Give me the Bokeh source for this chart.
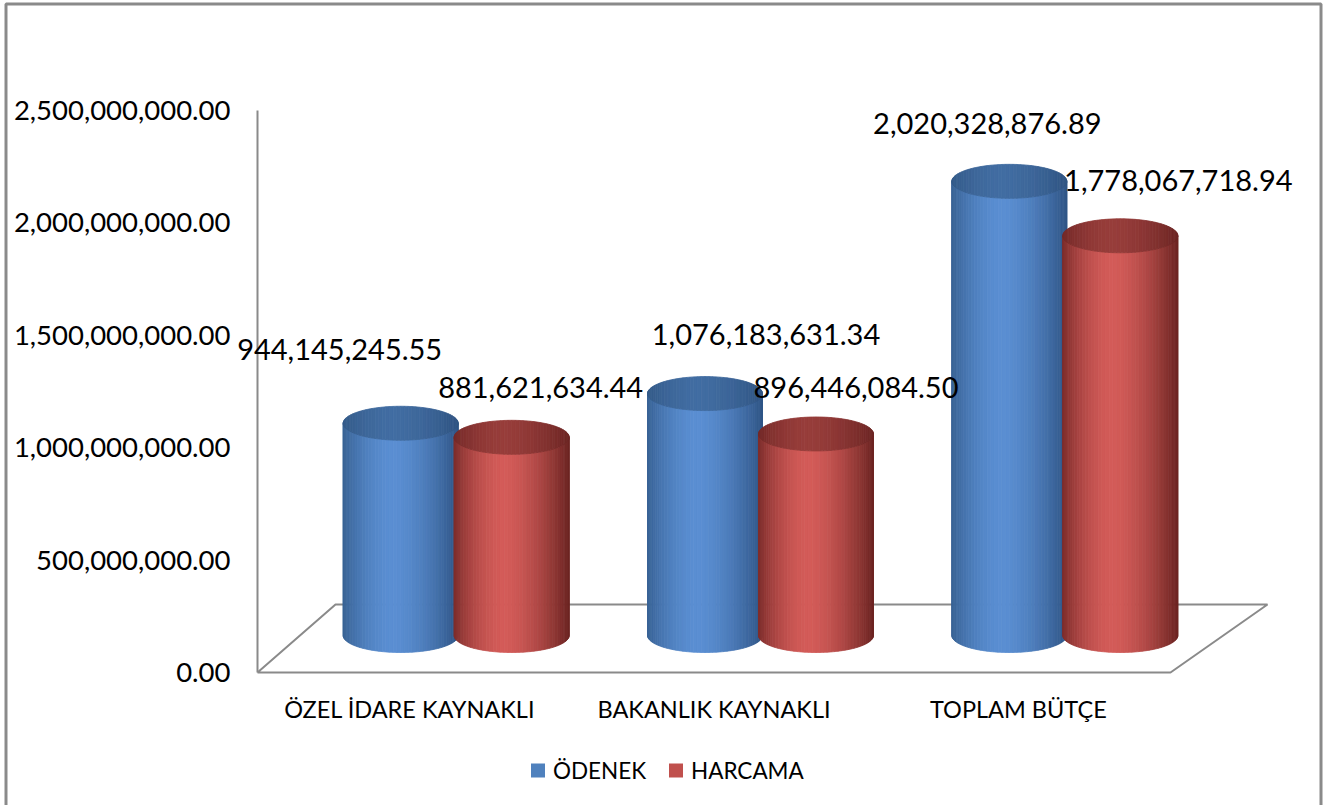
import numpy as np
from bokeh.plotting import figure
from bokeh.models import Range1d, ColumnDataSource
from bokeh.core.properties import value
from bokeh.embed import file_html
from bokeh.resources import INLINE

# ---------------- data ----------------
categories = ["ÖZEL İDARE KAYNAKLI", "BAKANLIK KAYNAKLI", "TOPLAM BÜTÇE"]
series_names = ["ÖDENEK", "HARCAMA"]
odenek = [944145245.55, 1076183631.34, 2020328876.89]
harcama = [881621634.44, 896446084.50, 1778067718.94]
y_ticks = [0, 500000000, 1000000000, 1500000000, 2000000000, 2500000000]

# ---------------- layout (pixels) ----------------
W, H = 1327, 805
Y0_PIX, YTOP_PIX = 672, 110            # pixel rows of 0 and of the top tick
PX = (y_ticks[-1] - y_ticks[0]) / (Y0_PIX - YTOP_PIX)  # value per pixel


def py(pix):
    return (Y0_PIX - pix) * PX


FRONT_L, FRONT_R = 257, 1170
BACK_L, BACK_R, BACK_Y = 335, 1267, 604
CAT_W = (FRONT_R - FRONT_L) / len(categories)
BASE_PIX = 635
RX = 57.5
HV = 17 * PX
BAR_DX = [-9, 102]
# data-label placement (screen px): horizontal shift from bar centre, gap above bar top
LABEL_DX = [[-61, 61, -22], [29, 40, 58]]
LABEL_UP = [[74, 59, 58], [50, 46, 55]]

FONT = value("Lato")

BLUE_DARK_L, BLUE_LIGHT, BLUE_DARK_R = (0x38, 0x62, 0x94), (0x5A, 0x8E, 0xD2), (0x2F, 0x55, 0x86)
RED_DARK_L, RED_LIGHT, RED_DARK_R = (0x7E, 0x2D, 0x2B), (0xD3, 0x5B, 0x58), (0x6C, 0x24, 0x22)
palettes = [(BLUE_DARK_L, BLUE_LIGHT, BLUE_DARK_R), (RED_DARK_L, RED_LIGHT, RED_DARK_R)]
legend_colors = ["#4F81BD", "#C0504D"]

p = figure(width=W, height=H, output_backend="svg", toolbar_location=None,
           x_range=Range1d(0, W), y_range=Range1d(py(H), py(0)),
           min_border=0, min_border_left=0, min_border_right=0,
           min_border_top=0, min_border_bottom=0)
p.axis.visible = False
p.grid.visible = False
p.outline_line_color = None
p.background_fill_color = "white"
p.border_fill_color = "white"

# outer chart border
p.line([5.5, 5.5, 1320.5, 1320.5], [py(H + 5), py(3.5), py(3.5), py(H + 5)],
       line_color="#8A8A8A", line_width=3)

# floor & wall
p.line([FRONT_L, FRONT_L], [py(YTOP_PIX), py(Y0_PIX)], line_color="#8A8A8A", line_width=2)
p.line([FRONT_L, BACK_L, BACK_R, FRONT_R, FRONT_L],
       [py(Y0_PIX), py(BACK_Y), py(BACK_Y), py(Y0_PIX), py(Y0_PIX)],
       line_color="#8A8A8A", line_width=2)


def mix(a, b, t):
    return tuple(int(round(a[i] + (b[i] - a[i]) * t)) for i in range(3))


def hexc(c, k=1.0):
    return "#%02x%02x%02x" % tuple(max(0, min(255, int(round(v * k)))) for v in c)


def side_color(u, pal):
    dl, lt, dr = pal
    u0 = -0.12
    if u < u0:
        d = (u0 - u) / (1 + u0)
        return mix(lt, dl, d ** 1.8)
    d = (u - u0) / (1 - u0)
    return mix(lt, dr, d ** 1.6)


theta = np.linspace(np.pi, 0, 49)
us = np.cos(theta)

for ci, cat in enumerate(categories):
    front_c = FRONT_L + (ci + 0.5) * CAT_W
    for si, vals in enumerate([odenek, harcama]):
        v = vals[ci]
        cx = front_c + BAR_DX[si]
        base = py(BASE_PIX)
        top = base + v
        xs_side, ys_side, cs_side = [], [], []
        xs_cap, ys_cap, cs_cap = [], [], []
        for a, b in zip(us[:-1], us[1:]):
            sa, sb = np.sqrt(max(0, 1 - a * a)), np.sqrt(max(0, 1 - b * b))
            xa, xb = cx + RX * a, cx + RX * b
            col = side_color((a + b) / 2, palettes[si])
            xs_side.append([xa, xb, xb, xa])
            ys_side.append([base - HV * sa, base - HV * sb, top - HV * sb, top - HV * sa])
            cs_side.append(hexc(col))
            xs_cap.append([xa, xb, xb, xa])
            ys_cap.append([top - HV * sa, top - HV * sb, top + HV * sb, top + HV * sa])
            cs_cap.append(hexc(mix(col, palettes[si][0], 0.55), 0.92))
        src = ColumnDataSource(dict(xs=xs_side, ys=ys_side, c=cs_side))
        p.patches("xs", "ys", source=src, fill_color="c", line_color="c", line_width=0.8)
        src2 = ColumnDataSource(dict(xs=xs_cap, ys=ys_cap, c=cs_cap))
        p.patches("xs", "ys", source=src2, fill_color="c", line_color="c", line_width=0.8)

# data labels
lab_x, lab_y, lab_t = [], [], []
for si, vals in enumerate([odenek, harcama]):
    for ci, v in enumerate(vals):
        front_c = FRONT_L + (ci + 0.5) * CAT_W
        lab_x.append(front_c + BAR_DX[si] + LABEL_DX[si][ci])
        lab_y.append(py(BASE_PIX) + v + LABEL_UP[si][ci] * PX)
        lab_t.append(f"{v:,.2f}")
p.text(lab_x, lab_y, text=lab_t, text_font=FONT, text_font_size="29px",
       text_align="center", text_baseline="middle", text_color="black")

# y tick labels
p.text([230] * len(y_ticks), y_ticks, text=[f"{t:,.2f}" for t in y_ticks],
       text_font=FONT, text_font_size="27.5px", text_align="right",
       text_baseline="middle", text_color="black")

# category labels
p.text([FRONT_L + (i + 0.5) * CAT_W for i in range(len(categories))],
       [py(708)] * len(categories), text=categories, text_font=FONT,
       text_font_size="23.5px", text_align="center", text_baseline="middle",
       text_color="black")

# legend
leg_x = [537.5, 675.5]
p.rect(leg_x, [py(770)] * 2, width=14, height=14, width_units="screen",
       height_units="screen", fill_color=legend_colors, line_color=None)
p.text([x + 15 for x in leg_x], [py(770)] * 2, text=series_names, text_font=FONT,
       text_font_size="22.5px", text_align="left", text_baseline="middle",
       text_color="black")

open("out.html", "w").write(file_html(p, INLINE))
